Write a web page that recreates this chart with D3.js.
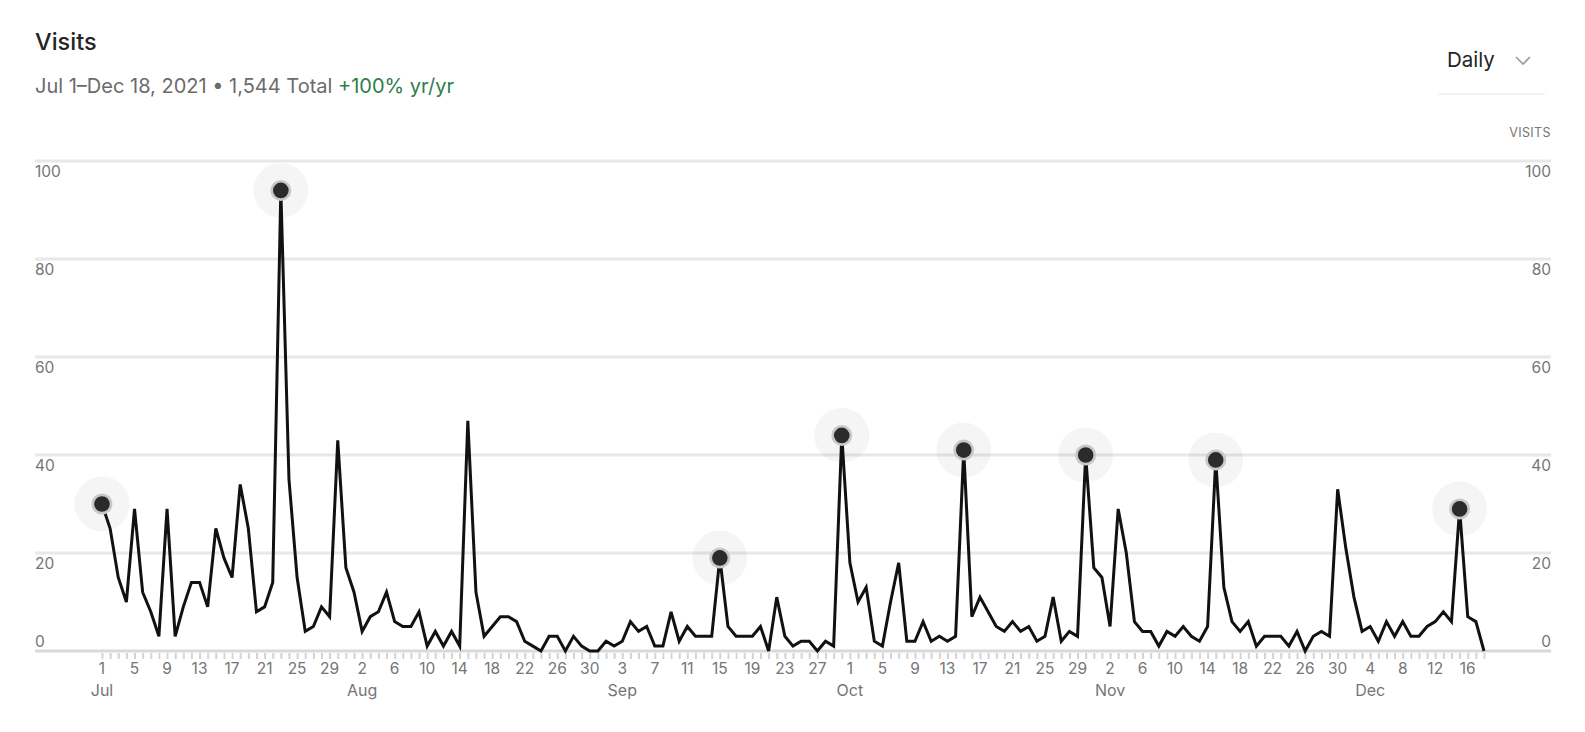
<!DOCTYPE html>
<html>
<head>
<meta charset="utf-8">
<script src="https://cdn.jsdelivr.net/npm/d3@7"></script>
<style>
  body { margin: 0; background: #fff; font-family: Inter, "Noto Sans", sans-serif; }
  svg text { font-family: Inter, "Noto Sans", sans-serif; }
</style>
</head>
<body>
<div id="chart"></div>
<script>
// daily visits, Jul 1 - Dec 18 2021, one array per month
var visitsJul = [30, 25, 15, 10, 29, 12, 8, 3, 29, 3, 9, 14, 14, 9, 25, 19, 15, 34, 25, 8, 9, 14, 94, 35, 15, 4, 5, 9, 7, 43, 17];
var visitsAug = [12, 4, 7, 8, 12, 6, 5, 5, 8, 1, 4, 1, 4, 1, 47, 12, 3, 5, 7, 7, 6, 2, 1, 0, 3, 3, 0, 3, 1, 0, 0];
var visitsSep = [2, 1, 2, 6, 4, 5, 1, 1, 8, 2, 5, 3, 3, 3, 19, 5, 3, 3, 3, 5, 0, 11, 3, 1, 2, 2, 0, 2, 1, 44];
var visitsOct = [18, 10, 13, 2, 1, 10, 18, 2, 2, 6, 2, 3, 2, 3, 41, 7, 11, 8, 5, 4, 6, 4, 5, 2, 3, 11, 2, 4, 3, 40, 17];
var visitsNov = [15, 5, 29, 20, 6, 4, 4, 1, 4, 3, 5, 3, 2, 5, 39, 13, 6, 4, 6, 1, 3, 3, 3, 1, 4, 0, 3, 4, 3, 33];
var visitsDec = [21, 11, 4, 5, 2, 6, 3, 6, 3, 3, 5, 6, 8, 6, 29, 7, 6, 0];

// days highlighted with a dot
var markedDays = ["2021-07-01", "2021-07-23", "2021-09-15", "2021-09-30", "2021-10-15", "2021-10-30", "2021-11-15", "2021-12-15"];

var yTicks = [0, 20, 40, 60, 80, 100];
var monthNames = ["Jan", "Feb", "Mar", "Apr", "May", "Jun", "Jul", "Aug", "Sep", "Oct", "Nov", "Dec"];

var width = 1585, height = 732;
var gridLeft = 35, gridRight = 1551;

var visits = visitsJul.concat(visitsAug, visitsSep, visitsOct, visitsNov, visitsDec);
var days = d3.timeDay.range(new Date(2021, 6, 1), new Date(2021, 11, 19));
var data = days.map(function(d, i) { return {date: d, value: visits[i]}; });

var parseDay = d3.timeParse("%Y-%m-%d");
var marked = markedDays.map(function(s) {
    var t = parseDay(s).getTime();
    return data.find(function(d) { return d.date.getTime() === t; });
});

var x = d3.scaleTime()
    .domain([days[0], days[days.length - 1]])
    .range([102, 1484]);

var y = d3.scaleLinear()
    .domain([0, 100])
    .range([651, 161]);

var svg = d3.select("#chart")
    .append("svg")
    .attr("width", width)
    .attr("height", height);

// header
svg.append("text")
    .attr("x", 35).attr("y", 50)
    .style("font-size", "23.5px")
    .style("font-weight", 500)
    .style("fill", "#242424")
    .text("Visits");

var sub = svg.append("text")
    .attr("x", 35).attr("y", 93)
    .style("font-size", "20px")
    .style("fill", "#6b6b6b");
sub.append("tspan").text("Jul 1\u2013Dec 18, 2021 \u2022 1,544 Total ");
sub.append("tspan").style("fill", "#2f7d4a").text("+100% yr/yr");

svg.append("text")
    .attr("x", 1447).attr("y", 67)
    .style("font-size", "20.5px")
    .style("fill", "#242424")
    .text("Daily");

svg.append("path")
    .attr("d", "M1516,57 L1523,64 L1530,57")
    .style("fill", "none")
    .style("stroke", "#9a9a9a")
    .style("stroke-width", 1.6);

svg.append("line")
    .attr("x1", 1438).attr("x2", 1545)
    .attr("y1", 94).attr("y2", 94)
    .style("stroke", "#e8e8e8")
    .style("stroke-width", 1);

svg.append("text")
    .attr("x", gridRight).attr("y", 137)
    .attr("text-anchor", "end")
    .style("font-size", "12.5px")
    .style("letter-spacing", "0.4px")
    .style("fill", "#757575")
    .text("VISITS");

// horizontal grid + y labels on both sides
var grid = svg.append("g");
grid.selectAll("line")
    .data(yTicks)
    .enter()
    .append("line")
    .attr("x1", gridLeft).attr("x2", gridRight)
    .attr("y1", function(d) { return y(d); })
    .attr("y2", function(d) { return y(d); })
    .style("stroke", function(d) { return d === 0 ? "#d9d9d9" : "#e8e8e8"; })
    .style("stroke-width", 3);

var labelY = function(d) { return d === 0 ? y(d) - 4 : y(d) + 16; };

grid.selectAll(".ylabel-left")
    .data(yTicks)
    .enter()
    .append("text")
    .attr("class", "ylabel-left")
    .attr("x", gridLeft)
    .attr("y", labelY)
    .style("font-size", "15.5px")
    .style("fill", "#757575")
    .text(function(d) { return d; });

grid.selectAll(".ylabel-right")
    .data(yTicks)
    .enter()
    .append("text")
    .attr("class", "ylabel-right")
    .attr("x", gridRight)
    .attr("y", labelY)
    .attr("text-anchor", "end")
    .style("font-size", "15.5px")
    .style("fill", "#757575")
    .text(function(d) { return d; });

// x axis: a tick per day, a label every 4 days, month name under first label of a month
var labelDays = days.filter(function(d, i) { return i % 4 === 0; });
var seenMonth = {};
var xAxis = d3.axisBottom(x)
    .tickValues(days)
    .tickSize(6)
    .tickFormat("");

var axisG = svg.append("g")
    .attr("transform", "translate(0," + (y(0) + 2) + ")")
    .call(xAxis);
axisG.select(".domain").remove();
axisG.selectAll(".tick line")
    .style("stroke", "#d4d4d4")
    .style("stroke-width", 2);

svg.append("g")
    .selectAll("text")
    .data(labelDays)
    .enter()
    .append("text")
    .attr("x", function(d) { return x(d); })
    .attr("y", y(0) + 23)
    .attr("text-anchor", "middle")
    .style("font-size", "15.5px")
    .style("fill", "#757575")
    .text(function(d) { return d.getDate(); });

svg.append("g")
    .selectAll("text")
    .data(labelDays.filter(function(d) {
        var m = d.getMonth();
        if (seenMonth[m]) return false;
        seenMonth[m] = true;
        return true;
    }))
    .enter()
    .append("text")
    .attr("x", function(d) { return x(d); })
    .attr("y", y(0) + 45)
    .attr("text-anchor", "middle")
    .style("font-size", "16px")
    .style("fill", "#757575")
    .text(function(d) { return monthNames[d.getMonth()]; });

// halos behind the line
svg.append("g")
    .selectAll("circle")
    .data(marked)
    .enter()
    .append("circle")
    .attr("cx", function(d) { return x(d.date); })
    .attr("cy", function(d) { return y(d.value); })
    .attr("r", 27.5)
    .style("fill", "rgba(0,0,0,0.04)");

var line = d3.line()
    .x(function(d) { return x(d.date); })
    .y(function(d) { return y(d.value); });

svg.append("path")
    .datum(data)
    .attr("d", line)
    .style("fill", "none")
    .style("stroke", "#111")
    .style("stroke-width", 3)
    .style("stroke-linejoin", "miter");

var dots = svg.append("g")
    .selectAll("g")
    .data(marked)
    .enter()
    .append("g")
    .attr("transform", function(d) { return "translate(" + x(d.date) + "," + y(d.value) + ")"; });
dots.append("circle").attr("r", 10.5).style("fill", "#c8c8c8");
dots.append("circle").attr("r", 7.8).style("fill", "#2b2b2b");
</script>
</body>
</html>
